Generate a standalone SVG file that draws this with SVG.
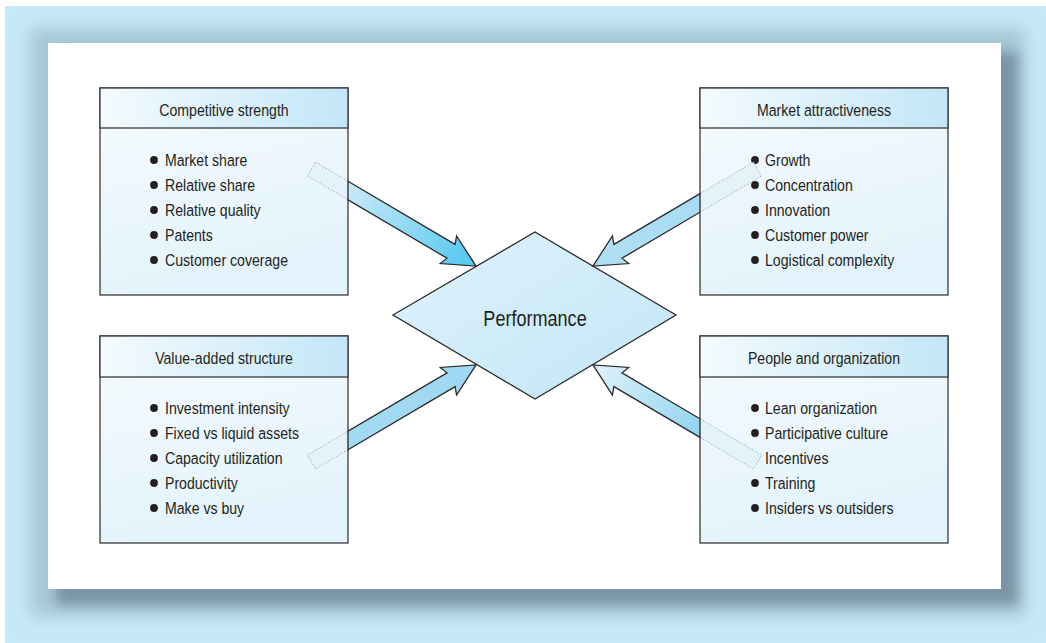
<svg xmlns="http://www.w3.org/2000/svg" width="1046" height="643" viewBox="0 0 1046 643">
<defs>
<style>
.t{font-family:"Liberation Sans",Arial,sans-serif;font-size:17px;fill:#231f20}
.h{text-anchor:middle}
.box{stroke:#3a3a3a;stroke-width:1.3}
.hdr{fill:url(#gHdr)}
.body{fill:url(#gBody)}
.arr{stroke:#2b2b2b;stroke-width:1.3;stroke-linejoin:miter}
.ext{fill:url(#hatch);stroke:#9aa8b0;stroke-width:0.8;stroke-dasharray:1.5 1.5}
.bul{fill:#231f20}
</style>
<filter id="blur1" x="-10%" y="-10%" width="120%" height="120%"><feGaussianBlur stdDeviation="8"/></filter>
<filter id="blur2" x="-10%" y="-10%" width="120%" height="120%"><feGaussianBlur stdDeviation="6"/></filter>
<linearGradient id="gHdr" x1="0" y1="0" x2="1" y2="0">
<stop offset="0" stop-color="#f4fbfe"/><stop offset="1" stop-color="#c3e6f7"/>
</linearGradient>
<linearGradient id="gBody" x1="0" y1="0" x2="0.3" y2="1">
<stop offset="0" stop-color="#f6fbfe"/><stop offset="1" stop-color="#e3f3fb"/>
</linearGradient>
<linearGradient id="gDia" x1="0" y1="0" x2="1" y2="1">
<stop offset="0" stop-color="#dff2fb"/><stop offset="1" stop-color="#c2e6f7"/>
</linearGradient>
<linearGradient id="gA1" gradientUnits="userSpaceOnUse" x1="40" y1="0" x2="191" y2="0">
<stop offset="0" stop-color="#c9eaf9"/><stop offset="1" stop-color="#52c6ef"/>
</linearGradient>
<linearGradient id="gA2" gradientUnits="userSpaceOnUse" x1="60" y1="0" x2="191" y2="0">
<stop offset="0" stop-color="#a6dcf3"/><stop offset="1" stop-color="#b0dff4"/>
</linearGradient>
<linearGradient id="gA3" gradientUnits="userSpaceOnUse" x1="40" y1="0" x2="191" y2="0">
<stop offset="0" stop-color="#a3daf3"/><stop offset="1" stop-color="#9fd8f2"/>
</linearGradient>
<linearGradient id="gA4" gradientUnits="userSpaceOnUse" x1="60" y1="0" x2="191" y2="0">
<stop offset="0" stop-color="#8ed3f0"/><stop offset="1" stop-color="#e0f2fb"/>
</linearGradient>
<pattern id="hatch" patternUnits="userSpaceOnUse" width="3" height="3" patternTransform="rotate(30)">
<rect width="3" height="3" fill="#e8f5fb"/>
<line x1="0" y1="0" x2="3" y2="0" stroke="#cfe6f1" stroke-width="1"/>
</pattern>
</defs>

<rect x="5" y="6" width="1041" height="637" fill="#c6e9f8"/>
<rect x="30" y="28" width="995" height="588" fill="#a6c7d8" filter="url(#blur1)"/>
<rect x="56" y="52" width="962" height="553" fill="#7a95a4" filter="url(#blur2)"/>
<rect x="48" y="43" width="953" height="546" fill="#ffffff"/>

<g id="node-competitive">
<rect class="box body" x="100" y="88" width="248" height="207"/>
<rect class="box hdr" x="100" y="88" width="248" height="40"/>
<text class="t h" transform="translate(224,116) scale(0.83,1)">Competitive strength</text>
<circle class="bul" cx="154" cy="160" r="3.9"/>
<circle class="bul" cx="154" cy="185" r="3.9"/>
<circle class="bul" cx="154" cy="210" r="3.9"/>
<circle class="bul" cx="154" cy="235" r="3.9"/>
<circle class="bul" cx="154" cy="260" r="3.9"/>
<text class="t" transform="translate(165,166) scale(0.83,1)">Market share</text>
<text class="t" transform="translate(165,191) scale(0.83,1)">Relative share</text>
<text class="t" transform="translate(165,216) scale(0.83,1)">Relative quality</text>
<text class="t" transform="translate(165,241) scale(0.83,1)">Patents</text>
<text class="t" transform="translate(165,266) scale(0.83,1)">Customer coverage</text>
</g>

<g id="node-market">
<rect class="box body" x="700" y="88" width="248" height="207"/>
<rect class="box hdr" x="700" y="88" width="248" height="40"/>
<text class="t h" transform="translate(824,116) scale(0.83,1)">Market attractiveness</text>
<circle class="bul" cx="755" cy="160" r="3.9"/>
<circle class="bul" cx="755" cy="185" r="3.9"/>
<circle class="bul" cx="755" cy="210" r="3.9"/>
<circle class="bul" cx="755" cy="235" r="3.9"/>
<circle class="bul" cx="755" cy="260" r="3.9"/>
<text class="t" transform="translate(765,166) scale(0.83,1)">Growth</text>
<text class="t" transform="translate(765,191) scale(0.83,1)">Concentration</text>
<text class="t" transform="translate(765,216) scale(0.83,1)">Innovation</text>
<text class="t" transform="translate(765,241) scale(0.83,1)">Customer power</text>
<text class="t" transform="translate(765,266) scale(0.83,1)">Logistical complexity</text>
</g>

<g id="node-value">
<rect class="box body" x="100" y="336" width="248" height="207"/>
<rect class="box hdr" x="100" y="336" width="248" height="41"/>
<text class="t h" transform="translate(224,364) scale(0.83,1)">Value-added structure</text>
<circle class="bul" cx="154" cy="408" r="3.9"/>
<circle class="bul" cx="154" cy="433" r="3.9"/>
<circle class="bul" cx="154" cy="458" r="3.9"/>
<circle class="bul" cx="154" cy="483" r="3.9"/>
<circle class="bul" cx="154" cy="508" r="3.9"/>
<text class="t" transform="translate(165,414) scale(0.83,1)">Investment intensity</text>
<text class="t" transform="translate(165,439) scale(0.83,1)">Fixed vs liquid assets</text>
<text class="t" transform="translate(165,464) scale(0.83,1)">Capacity utilization</text>
<text class="t" transform="translate(165,489) scale(0.83,1)">Productivity</text>
<text class="t" transform="translate(165,514) scale(0.83,1)">Make vs buy</text>
</g>

<g id="node-people">
<rect class="box body" x="700" y="336" width="248" height="207"/>
<rect class="box hdr" x="700" y="336" width="248" height="41"/>
<text class="t h" transform="translate(824,364) scale(0.83,1)">People and organization</text>
<circle class="bul" cx="755" cy="408" r="3.9"/>
<circle class="bul" cx="755" cy="433" r="3.9"/>
<circle class="bul" cx="755" cy="458" r="3.9"/>
<circle class="bul" cx="755" cy="483" r="3.9"/>
<circle class="bul" cx="755" cy="508" r="3.9"/>
<text class="t" transform="translate(765,414) scale(0.83,1)">Lean organization</text>
<text class="t" transform="translate(765,439) scale(0.83,1)">Participative culture</text>
<text class="t" transform="translate(765,464) scale(0.83,1)">Incentives</text>
<text class="t" transform="translate(765,489) scale(0.83,1)">Training</text>
<text class="t" transform="translate(765,514) scale(0.83,1)">Insiders vs outsiders</text>
</g>

<g id="node-performance">
<polygon points="393,315 535,232 676,315 535,399" fill="url(#gDia)" stroke="#2b2b2b" stroke-width="1.3"/>
<text class="t h" style="font-size:21.5px" transform="translate(535,326) scale(0.84,1)">Performance</text>
</g>

<g id="connectors">
<g transform="translate(311.5,169) rotate(30.53)">
<path class="ext" d="M0,-8 L37.66,-8 L47.1,8 L0,8 Z"/>
<path class="arr" fill="url(#gA1)" d="M37.66,-8 L162,-8 L159,-16 L191,0 L159,16 L162,8 L47.1,8 Z"/>
</g>
<g transform="translate(1069,0) scale(-1,1) translate(311.5,169) rotate(30.53)">
<path class="ext" d="M0,-8 L62,-8 L71.5,8 L0,8 Z"/>
<path class="arr" fill="url(#gA2)" d="M62,-8 L162,-8 L159,-16 L191,0 L159,16 L162,8 L71.5,8 Z"/>
</g>
<g transform="translate(0,631) scale(1,-1) translate(311.5,169) rotate(30.53)">
<path class="ext" d="M0,-8 L37.66,-8 L47.1,8 L0,8 Z"/>
<path class="arr" fill="url(#gA3)" d="M37.66,-8 L162,-8 L159,-16 L191,0 L159,16 L162,8 L47.1,8 Z"/>
</g>
<g transform="translate(1069,631) scale(-1,-1) translate(311.5,169) rotate(30.53)">
<path class="ext" d="M0,-8 L62,-8 L71.5,8 L0,8 Z"/>
<path class="arr" fill="url(#gA4)" d="M62,-8 L162,-8 L159,-16 L191,0 L159,16 L162,8 L71.5,8 Z"/>
</g>
</g>
</svg>
